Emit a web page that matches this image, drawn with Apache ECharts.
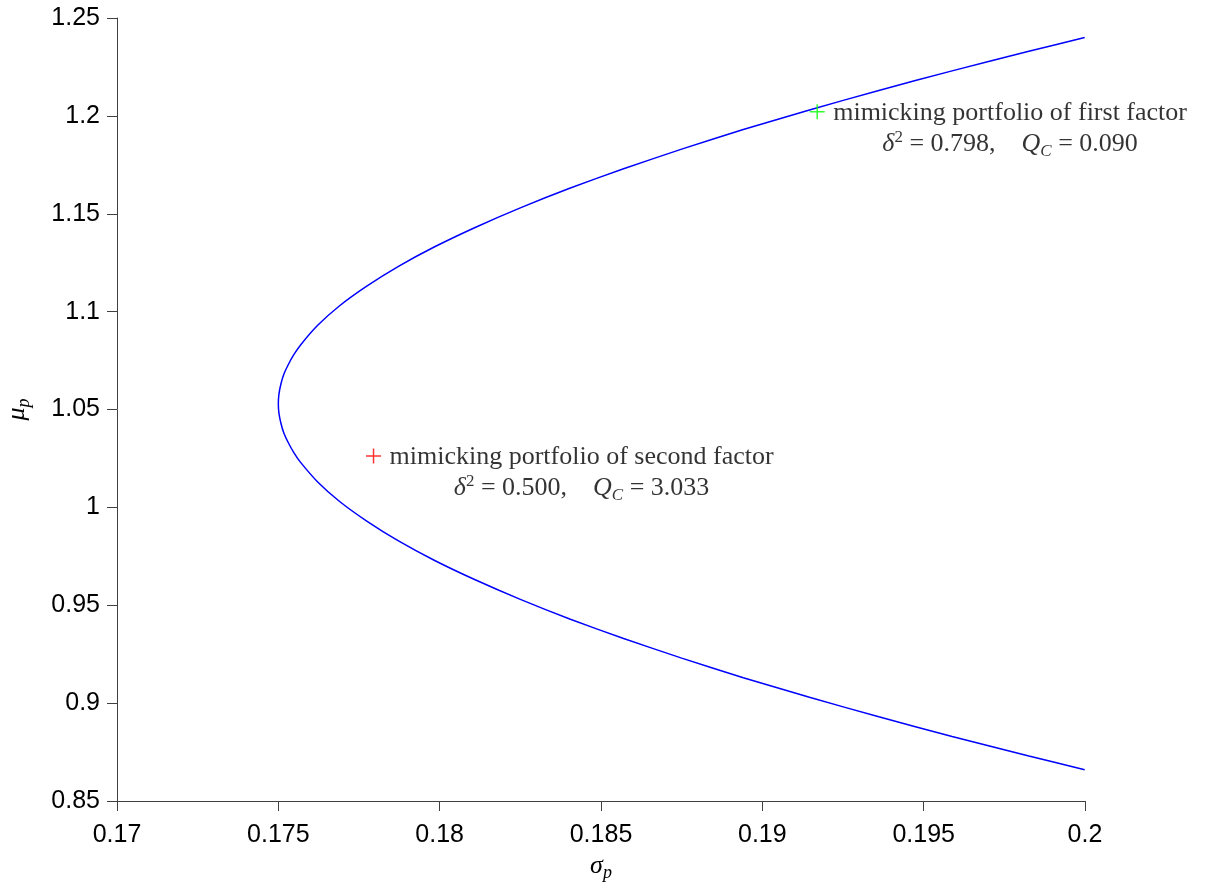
<!DOCTYPE html>
<html>
<head>
<meta charset="utf-8">
<script src="https://cdn.jsdelivr.net/npm/echarts@6/dist/echarts.min.js"></script>
<style>
html, body { margin: 0; padding: 0; background: #fff; }
#chart { width: 1206px; height: 882px; }
</style>
</head>
<body>
<div id="chart"></div>
<script>
// efficient frontier (mu ascending, denser near the vertex)
const frontierMu = [
    0.866, 0.873, 0.883, 0.893, 0.903, 0.913, 0.923, 0.933, 0.943, 0.953,
    0.963, 0.973, 0.983, 0.993, 1.003, 1.013, 1.023, 1.028, 1.033, 1.038,
    1.043, 1.048, 1.053,
    1.058, 1.063, 1.068, 1.073, 1.078, 1.083, 1.093, 1.103, 1.113, 1.123,
    1.133, 1.143, 1.153, 1.163, 1.173, 1.183, 1.193, 1.203, 1.213, 1.223,
    1.233, 1.240,
]
const frontierSigma = [
    0.19999, 0.19826, 0.19588, 0.19361, 0.19146, 0.18941, 0.18750, 0.18570, 0.18403, 0.18250,
    0.18110, 0.17983, 0.17871, 0.17774, 0.17690, 0.17622, 0.17569, 0.17548, 0.17531, 0.17517,
    0.17508, 0.17502, 0.17500,
    0.17502, 0.17508, 0.17517, 0.17531, 0.17548, 0.17569, 0.17622, 0.17690, 0.17774, 0.17871,
    0.17983, 0.18110, 0.18250, 0.18403, 0.18570, 0.18750, 0.18941, 0.19146, 0.19361, 0.19588,
    0.19826, 0.19999,
]
const xTickLabels = ['0.17', '0.175', '0.18', '0.185', '0.19', '0.195', '0.2']
const yTickLabels = ['0.85', '0.9', '0.95', '1', '1.05', '1.1', '1.15', '1.2', '1.25']

const firstFactor = [0.1917, 1.2021]
const secondFactor = [0.17795, 1.0262]
const firstStats = ['0.798', '0.090']
const secondStats = ['0.500', '3.033']

const serif = 'Liberation Serif'
const axisColor = '#404040'
const plusPath = 'path://M0,-10 L0,10 M-10,0 L10,0'

const rich = {
    t: { fontFamily: serif, fontSize: 26, color: '#000', lineHeight: 31 },
    i: { fontFamily: serif, fontStyle: 'italic', fontSize: 26, color: '#000', lineHeight: 31, align: 'center' },
    m: { fontFamily: serif, fontSize: 26, color: '#000', lineHeight: 31, align: 'center' },
    sup: { fontFamily: serif, fontSize: 17, color: '#000', lineHeight: 19, verticalAlign: 'top', align: 'center' },
    sub: { fontFamily: serif, fontStyle: 'italic', fontSize: 17, color: '#000', lineHeight: 19, verticalAlign: 'bottom', align: 'center' },
}

function factorLabel(name, stats) {
    return '{t|mimicking portfolio of ' + name + ' factor}\n' +
        '{i|δ}{sup|2}{m| = ' + stats[0] + ',    }{i|Q}{sub|C}{m| = ' + stats[1] + '}'
}

function tickFormatter(labels, min, step) {
    return v => labels[Math.round((v - min) / step)] || ''
}

function markerSeries(point, color, name, stats) {
    return {
        type: 'scatter',
        data: [point],
        symbol: plusPath,
        symbolSize: 15,
        itemStyle: { color: 'none', borderColor: color, borderWidth: 1.5 },
        label: {
            show: true,
            position: 'right',
            distance: 6,
            offset: [0, 17],
            formatter: factorLabel(name, stats),
            rich: rich,
        },
        silent: true,
        z: 3,
    }
}

const nameRich = {
    v: { fontFamily: serif, fontStyle: 'italic', fontSize: 26, color: '#000' },
    s: { fontFamily: serif, fontStyle: 'italic', fontSize: 18, color: '#000', padding: [14, 0, 0, 0] },
}

const chart = echarts.init(document.getElementById('chart'))
chart.setOption({
    animation: false,
    backgroundColor: '#fff',
    grid: {
        left: 117,
        right: 121,
        top: 18,
        bottom: 81,
        outerBoundsMode: 'none',
    },
    xAxis: {
        type: 'value',
        min: 0.17,
        max: 0.2,
        interval: 0.005,
        name: '{v|σ}{s|p}',
        nameLocation: 'middle',
        nameGap: 46,
        nameTextStyle: { rich: nameRich },
        axisLine: { onZero: false, lineStyle: { color: axisColor, width: 1 } },
        axisTick: { length: 10, lineStyle: { color: axisColor } },
        axisLabel: {
            margin: 22,
            fontFamily: 'Liberation Sans',
            fontSize: 25,
            color: '#000',
            formatter: tickFormatter(xTickLabels, 0.17, 0.005),
        },
        splitLine: { show: false },
    },
    yAxis: {
        type: 'value',
        min: 0.85,
        max: 1.25,
        interval: 0.05,
        name: '{v|μ}{s|p}',
        nameLocation: 'middle',
        nameRotate: 90,
        nameGap: 84,
        nameTextStyle: { rich: nameRich },
        axisLine: { onZero: false, lineStyle: { color: axisColor, width: 1 } },
        axisTick: { length: 10, lineStyle: { color: axisColor } },
        axisLabel: {
            margin: 17,
            fontFamily: 'Liberation Sans',
            fontSize: 25,
            color: '#000',
            formatter: tickFormatter(yTickLabels, 0.85, 0.05),
        },
        splitLine: { show: false },
    },
    series: [
        {
            type: 'line',
            data: frontierMu.map((mu, i) => [frontierSigma[i], mu]),
            showSymbol: false,
            smooth: 0.2,
            lineStyle: { color: '#0000ff', width: 1.5 },
            silent: true,
            z: 2,
        },
        markerSeries(firstFactor, '#00ff00', 'first', firstStats),
        markerSeries(secondFactor, '#ff0000', 'second', secondStats),
    ],
})
</script>
</body>
</html>
